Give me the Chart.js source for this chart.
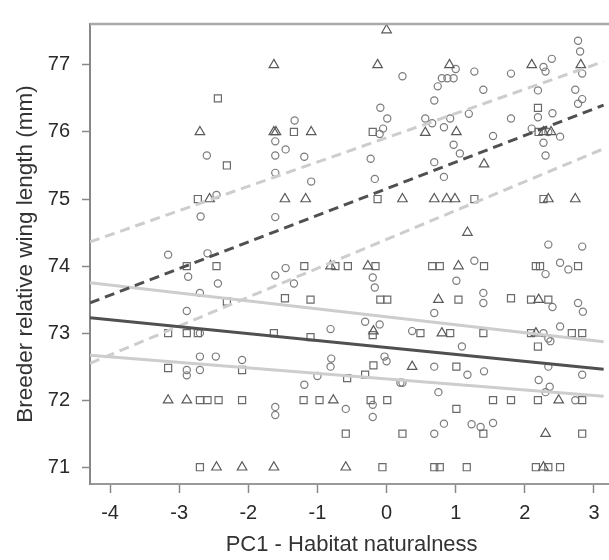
<!DOCTYPE html>
<html lang="en">
<head>
  <meta charset="UTF-8">
  <title>Breeder relative wing length vs PC1</title>
  <script src="https://cdn.jsdelivr.net/npm/chart.js@4"></script>
  <style>
    html, body { margin: 0; padding: 0; background: #fff; overflow: hidden; }
    .wrap { position: relative; width: 620px; height: 560px; }
  </style>
</head>
<body>
  <div class="wrap"><canvas id="wingChart"></canvas></div>
  <script>
    // tick labels
    const xTicks = [-4, -3, -2, -1, 0, 1, 2, 3];
    const yTicks = [71, 72, 73, 74, 75, 76, 77];

    // fitted lines, read at the left and right edges of the plot
    const lineX = [-4.29, 3.14];
    const dashedFit = [73.45, 76.40];
    const dashedUpper = [74.36, 77.05];
    const dashedLower = [72.55, 75.75];
    const solidFit = [73.23, 72.46];
    const solidUpper = [73.75, 72.87];
    const solidLower = [72.67, 72.06];

    // observations [PC1, wing length] per marker shape
    const circlePts = [
      [2.77,77.36],[2.8,77.2],[2.83,76.87],[2.27,76.97],[2.3,76.9],[2.39,77.09],[1.0,76.94],[0.23,76.83],
      [1.27,76.9],[1.8,76.87],[0.8,76.8],[0.88,76.8],[0.97,76.8],[0.74,76.68],[1.4,76.63],[2.19,76.62],
      [2.73,76.63],[2.83,76.49],[0.69,76.47],[2.77,76.42],[1.19,76.27],[2.19,76.22],[2.4,76.28],[0.56,76.2],
      [0.66,76.13],[0.83,76.07],[0.92,76.2],[1.8,76.2],[1.54,75.94],[2.1,76.05],[2.34,76.0],[2.51,75.93],
      [2.27,75.84],[2.3,75.65],[0.97,75.81],[1.06,75.68],[0.69,75.55],[0.83,75.33],
      [-0.09,76.36],[0.01,76.2],[-1.33,76.17],[-1.61,75.86],[-2.6,75.65],[-1.61,75.65],[-1.46,75.74],
      [-1.19,75.63],[-0.23,75.6],[-1.61,75.39],[-1.09,75.26],[-0.17,75.3],[-0.1,75.97],[-0.05,76.05],
      [-2.46,75.06],[-2.69,74.74],[-1.61,74.73],[-3.16,74.17],[-2.59,74.19],[-1.46,73.97],
      [-1.61,73.86],[-1.34,73.74],[-2.44,73.74],[-0.2,73.83],[-0.17,73.68],[-2.7,73.6],[-0.81,73.06],
      [-0.31,73.17],[-0.1,73.13],[-2.7,73.0],[-2.87,73.84],[-2.89,73.33],[-2.7,72.65],[-2.47,72.65],
      [-2.09,72.6],[-2.89,72.45],[-2.89,72.37],[-2.7,72.45],
      [-0.81,72.5],[-1.19,72.23],[-1.0,72.36],[-1.61,71.9],[-1.61,71.78],[-0.59,71.87],[-0.2,71.93],
      [-0.2,71.75],[-0.8,72.62],[-0.03,72.65],[0.0,72.58],[0.23,72.26],
      [2.34,74.32],[2.83,74.29],[1.27,74.08],[2.51,74.05],[2.63,73.95],[2.3,73.88],[1.01,73.78],[1.4,73.6],
      [1.4,73.45],[2.77,73.45],[2.84,73.32],[2.4,73.39],[0.69,73.3],[0.37,73.03],[2.27,73.0],[2.34,72.92],
      [2.51,73.1],[1.09,72.8],[2.37,72.88],
      [0.69,72.5],[1.17,72.38],[1.41,72.43],[2.34,72.5],[2.83,72.38],[0.2,72.26],[0.75,72.12],[2.2,72.3],
      [2.36,72.2],[2.3,72.12],[2.73,72.0],[0.83,71.65],[0.69,71.5],[1.23,71.64],[1.36,71.6],[1.54,71.66]
    ];
    const squarePts = [
      [-2.44,76.5],[-1.34,76.0],[-0.2,76.0],[2.2,76.0],[2.19,76.36],[-2.31,75.5],[-2.73,75.0],[-0.13,75.0],
      [1.27,75.0],[2.27,75.0],
      [-2.89,74.0],[-2.46,74.0],[-1.19,74.0],[-0.74,74.0],[-0.56,74.0],[-0.16,74.0],[0.66,74.0],[0.77,74.0],
      [1.41,74.0],[2.16,74.0],[2.22,74.0],[2.77,74.0],
      [-2.31,73.47],[-1.47,73.52],[-1.1,73.5],[-0.09,73.5],[0.01,73.5],[1.04,73.5],[1.8,73.52],[2.09,73.5],
      [2.34,73.5],
      [-3.16,73.0],[-2.89,73.0],[-2.73,73.0],[-1.63,73.0],[-1.1,72.94],[-0.2,72.97],[0.49,73.0],[0.92,73.0],
      [1.4,73.0],[2.09,73.0],[2.68,73.0],[2.83,73.0],[2.19,72.8],
      [-3.16,72.48],[-2.09,72.45],[-0.19,72.52],[1.01,72.5],[-0.57,72.33],[-0.31,72.38],
      [-2.7,72.0],[-2.59,72.0],[-2.43,72.0],[-2.09,72.0],[-1.2,72.0],[-0.97,72.0],[-0.23,72.0],[0.01,72.0],
      [1.54,72.0],[1.8,72.0],[2.19,72.0],[2.83,72.0],[1.01,71.87],
      [-0.59,71.5],[0.23,71.5],[1.4,71.5],[2.83,71.5],
      [-2.7,71.0],[-0.06,71.0],[0.69,71.0],[0.77,71.0],[1.16,71.0],[2.16,71.0],[2.34,71.0],[2.51,71.0]
    ];
    const trianglePts = [
      [0.0,77.52],[-1.63,77.0],[-0.13,77.0],[0.91,77.0],[2.1,77.0],[2.81,77.0],
      [-2.7,76.0],[-1.63,76.0],[-1.6,76.0],[-1.09,76.0],[0.56,75.99],[1.01,76.0],[2.27,76.0],[2.38,76.0],
      [1.41,75.52],
      [-2.56,75.0],[-1.47,75.0],[-1.17,75.0],[0.23,75.0],[0.69,75.0],[0.87,75.0],[0.99,75.0],[2.34,75.0],
      [2.73,75.0],[1.17,74.5],
      [-0.81,74.0],[-0.27,74.0],[1.04,74.0],[0.75,73.5],[2.2,73.5],
      [-0.19,73.03],[0.8,73.0],[2.16,73.0],[0.37,72.5],
      [-3.16,72.0],[-2.89,72.0],[-0.77,72.0],[2.49,72.0],[2.3,71.5],
      [-2.46,71.0],[-2.09,71.0],[-1.63,71.0],[-0.59,71.0],[2.27,71.0]
    ];

    const toXY = pts => pts.map(p => ({ x: p[0], y: p[1] }));
    const fitLine = ys => lineX.map((x, i) => ({ x: x, y: ys[i] }));

    const FONT = "Arial, 'Liberation Sans', sans-serif";
    const DARK = '#505050';
    const LIGHT = '#cdcdcd';
    const DASH = [10, 6];

    function lineSet(ys, color, dash) {
      return {
        data: fitLine(ys),
        showLine: true,
        pointRadius: 0,
        borderColor: color,
        borderWidth: 3,
        borderDash: dash || []
      };
    }

    function markerSet(pts, style, radius, color) {
      return {
        data: toXY(pts),
        pointStyle: style,
        pointRadius: radius,
        pointBorderWidth: 1.2,
        borderColor: color,
        backgroundColor: 'rgba(255,255,255,0)'
      };
    }

    // top edge of the plot box
    const frameTop = {
      id: 'frameTop',
      afterDraw(chart) {
        const { ctx, chartArea: a } = chart;
        ctx.save();
        ctx.strokeStyle = '#aaa';
        ctx.lineWidth = 2.5;
        ctx.beginPath();
        ctx.moveTo(a.left, a.top);
        ctx.lineTo(a.right, a.top);
        ctx.stroke();
        ctx.restore();
      }
    };

    const ctx = document.getElementById('wingChart').getContext('2d');
    new Chart(ctx, {
      type: 'scatter',
      data: {
        datasets: [
          lineSet(dashedFit, DARK, DASH),
          lineSet(solidFit, DARK),
          lineSet(dashedUpper, LIGHT, DASH),
          lineSet(dashedLower, LIGHT, DASH),
          lineSet(solidUpper, LIGHT),
          lineSet(solidLower, LIGHT),
          markerSet(trianglePts, 'triangle', 5.5, '#5a5a5a'),
          markerSet(squarePts, 'rect', 5, '#6a6a6a'),
          markerSet(circlePts, 'circle', 3.6, '#7c7c7c')
        ]
      },
      options: {
        responsive: true,
        maintainAspectRatio: false,
        animation: false,
        layout: { padding: { top: 11, right: 0, bottom: 0, left: 0 } },
        plugins: { legend: { display: false }, tooltip: { enabled: false } },
        scales: {
          x: {
            type: 'linear',
            min: -4.29,
            max: 3.28,
            afterBuildTicks: s => { s.ticks = xTicks.map(v => ({ value: v })); },
            afterFit: s => { s.height = 76; },
            grid: { drawOnChartArea: false, tickLength: 9, tickColor: '#888', tickWidth: 1.5 },
            border: { color: '#999', width: 2 },
            ticks: { padding: 8, color: '#2a2a2a', font: { family: FONT, size: 20 } },
            title: {
              display: true, text: 'PC1 - Habitat naturalness', color: '#333',
              font: { family: FONT, size: 22 }, padding: { top: 0, bottom: 2 }
            }
          },
          y: {
            type: 'linear',
            min: 70.75,
            max: 77.61,
            afterBuildTicks: s => { s.ticks = yTicks.map(v => ({ value: v })); },
            afterFit: s => { s.width = 90; },
            grid: { drawOnChartArea: false, tickLength: 8, tickColor: '#888', tickWidth: 1.5 },
            border: { color: '#888', width: 2 },
            ticks: { padding: 12, color: '#2a2a2a', font: { family: FONT, size: 20 } },
            title: {
              display: true, text: 'Breeder relative wing length (mm)', color: '#333',
              font: { family: FONT, size: 22.5 }, padding: { top: 12, bottom: 0 }
            }
          }
        }
      },
      plugins: [frameTop]
    });
  </script>
</body>
</html>
